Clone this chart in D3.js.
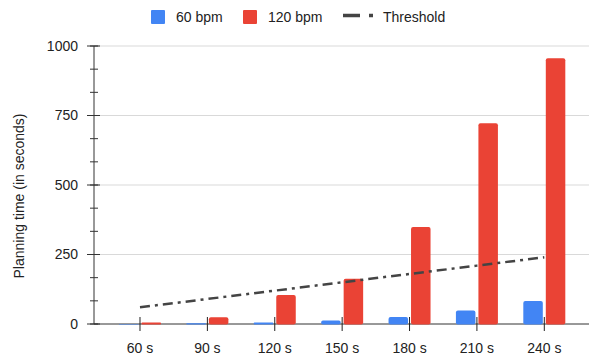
<!DOCTYPE html>
<html>
<head>
<meta charset="utf-8">
<script src="https://cdn.jsdelivr.net/npm/d3@7"></script>
<style>
  html, body { margin: 0; padding: 0; background: #fff; }
  svg { display: block; font-family: Arial, "Liberation Sans", sans-serif; }
</style>
</head>
<body>
<div id="chart"></div>
<script>
// Grouped bars (60 vs 120 bpm) with a dash-dot threshold line.

const CATEGORIES = ["60 s", "90 s", "120 s", "150 s", "180 s", "210 s", "240 s"];
const BPM60      = [0.3, 3, 5, 13, 25, 49, 83];
const BPM120     = [5, 24, 104, 163, 349, 722, 956];
const THRESHOLD  = [60, 90, 120, 150, 180, 210, 240];
const Y_TICKS    = [0, 250, 500, 750, 1000];

const SERIES = [
  { key: "60 bpm",  values: BPM60,  color: "#4285f4" },
  { key: "120 bpm", values: BPM120, color: "#ea4335" },
];

const W = 589, H = 358;
const plot = { left: 94, right: 589, top: 46, bottom: 324 };

const svg = d3.select("#chart").append("svg").attr("width", W).attr("height", H);

const x = d3.scaleBand().domain(CATEGORIES).range([106.3, 578]).padding(0);
const xSub = d3.scaleBand().domain(SERIES.map(s => s.key)).range([-21, 21]).paddingInner(0.133);
const y = d3.scaleLinear().domain([0, 1000]).range([plot.bottom, plot.top]);
const cx = c => x(c) + x.bandwidth() / 2;

// gridlines
svg.append("g").selectAll("line").data(Y_TICKS.filter(d => d > 0)).join("line")
  .attr("x1", plot.left).attr("x2", plot.right)
  .attr("y1", d => y(d)).attr("y2", d => y(d))
  .attr("stroke", "#d9d9d9").attr("stroke-width", 1);

// x axis baseline (bars sit on top of it)
svg.append("line")
  .attr("x1", plot.left).attr("x2", plot.right)
  .attr("y1", plot.bottom).attr("y2", plot.bottom)
  .attr("stroke", "#333");

// bars
SERIES.forEach(s => {
  svg.append("g").selectAll("rect").data(CATEGORIES).join("rect")
    .attr("x", (c) => cx(c) + xSub(s.key))
    .attr("width", xSub.bandwidth())
    .attr("y", (c, i) => y(s.values[i]))
    .attr("height", (c, i) => Math.max(0, plot.bottom + 0.5 - y(s.values[i])))
    .attr("rx", (c, i) => Math.min(2, (plot.bottom - y(s.values[i])) / 2))
    .attr("fill", s.color);
});

// y axis
const yAxis = svg.append("g").attr("transform", `translate(${plot.left},0)`);
yAxis.append("line").attr("y1", plot.top).attr("y2", plot.bottom).attr("stroke", "#333");
const minor = d3.range(0, 1001, 250 / 3);
yAxis.selectAll(".minor").data(minor).join("line").attr("class", "minor")
  .attr("x1", -4).attr("x2", 4)
  .attr("y1", d => y(d)).attr("y2", d => y(d))
  .attr("stroke", "#333");
yAxis.selectAll(".major").data(Y_TICKS).join("line").attr("class", "major")
  .attr("x1", -7).attr("x2", 6)
  .attr("y1", d => y(d)).attr("y2", d => y(d))
  .attr("stroke", "#333");
yAxis.selectAll("text").data(Y_TICKS).join("text")
  .attr("x", -16).attr("y", d => y(d)).attr("dy", "0.35em")
  .attr("text-anchor", "end").attr("font-size", 14).attr("fill", "#222")
  .text(d => d);

svg.append("text")
  .attr("transform", `translate(24,196) rotate(-90)`)
  .attr("text-anchor", "middle").attr("font-size", 14).attr("fill", "#222")
  .text("Planning time (in seconds)");

// x ticks and labels
svg.append("g").selectAll("line").data(CATEGORIES).join("line")
  .attr("x1", cx).attr("x2", cx)
  .attr("y1", plot.bottom - 7).attr("y2", plot.bottom + 7)
  .attr("stroke", "#222");
svg.append("g").selectAll("text").data(CATEGORIES).join("text")
  .attr("x", cx).attr("y", 353)
  .attr("text-anchor", "middle").attr("font-size", 14).attr("fill", "#222")
  .text(d => d);

// threshold line
const DASH = "10,5,3,5";
svg.append("path").datum(CATEGORIES)
  .attr("d", d3.line().x(cx).y((c, i) => y(THRESHOLD[i])))
  .attr("fill", "none").attr("stroke", "#444").attr("stroke-width", 2.5)
  .attr("stroke-dasharray", DASH);

// legend
const legend = svg.append("g").attr("font-size", 14).attr("fill", "#222");
[{ x: 151, label: "60 bpm", color: "#4285f4" }, { x: 243, label: "120 bpm", color: "#ea4335" }]
  .forEach(l => {
    legend.append("rect").attr("x", l.x).attr("y", 10).attr("width", 14).attr("height", 14)
      .attr("rx", 1).attr("fill", l.color);
    legend.append("text").attr("x", l.x + 25).attr("y", 21.5).text(l.label);
  });
legend.append("line").attr("x1", 343).attr("x2", 374).attr("y1", 15.5).attr("y2", 15.5)
  .attr("stroke", "#444").attr("stroke-width", 3.5).attr("stroke-dasharray", "17,9,4,10");
legend.append("text").attr("x", 383).attr("y", 21.5).text("Threshold");
</script>
</body>
</html>
